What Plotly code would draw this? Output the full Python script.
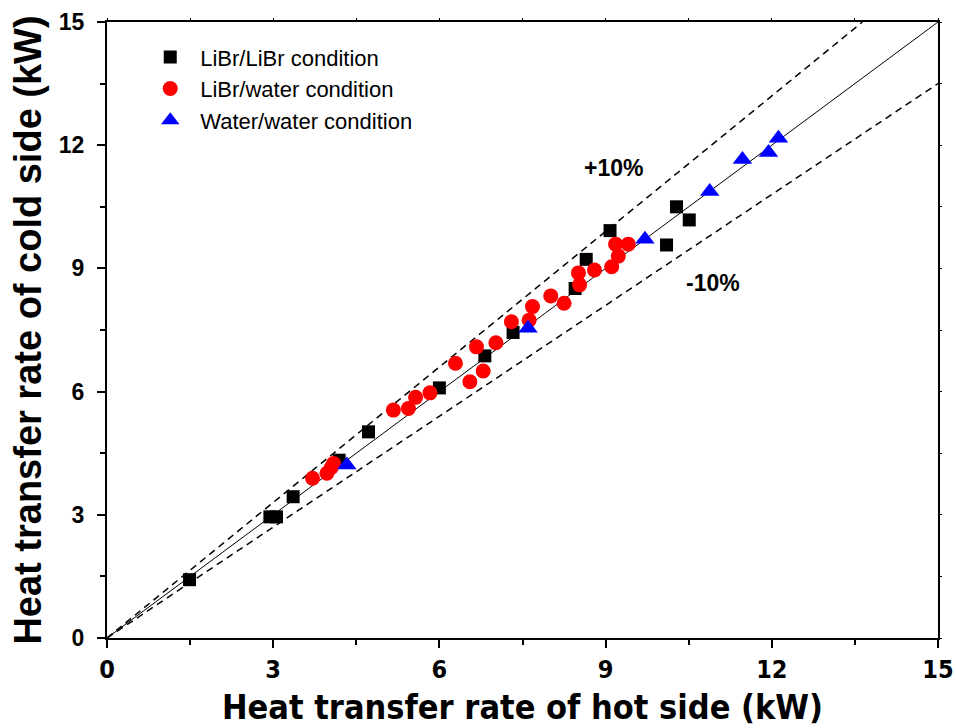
import plotly.graph_objects as go

# Measured heat transfer rates (kW): hot side vs cold side
libr_libr_hot = [1.49, 2.94, 3.06, 3.36, 4.19, 4.72, 6.00, 6.82, 7.33, 8.45, 8.65, 9.08, 10.10, 10.28, 10.51]
libr_libr_cold = [1.42, 2.95, 2.95, 3.44, 4.33, 5.02, 6.09, 6.87, 7.44, 8.51, 9.22, 9.92, 9.57, 10.50, 10.18]

libr_water_hot = [3.71, 3.97, 4.05, 4.09, 5.17, 5.44, 5.57, 5.83, 6.29, 6.55, 6.79, 6.67, 7.02,
                  7.30, 7.62, 7.68, 8.01, 8.25, 8.53, 8.51, 8.80, 9.11, 9.23, 9.18, 9.41]
libr_water_cold = [3.89, 4.01, 4.15, 4.25, 5.55, 5.59, 5.86, 5.97, 6.69, 6.24, 6.50, 7.09, 7.19,
                   7.70, 7.74, 8.07, 8.33, 8.15, 8.60, 8.89, 8.96, 9.04, 9.30, 9.59, 9.59]

water_water_hot = [4.33, 7.60, 9.71, 10.88, 11.47, 11.94, 12.12]
water_water_cold = [4.21, 7.54, 9.71, 10.87, 11.65, 11.82, 12.17]

axis_max = 15
tick_vals = [0, 3, 6, 9, 12, 15]
deviation = 0.10

narrow = "DejaVu Sans Condensed, Liberation Sans Narrow, Arial Narrow, sans-serif"
arial = "Liberation Sans, Arial, sans-serif"

fig = go.Figure()

# Parity line and +/-10% bounds
fig.add_trace(go.Scatter(x=[0, axis_max], y=[0, axis_max], mode="lines",
                         line=dict(color="black", width=1), showlegend=False, hoverinfo="skip"))
fig.add_trace(go.Scatter(x=[0, axis_max / (1 + deviation)], y=[0, axis_max], mode="lines",
                         line=dict(color="black", width=1.5, dash="7px,5px"),
                         showlegend=False, hoverinfo="skip"))
fig.add_trace(go.Scatter(x=[0, axis_max], y=[0, axis_max * (1 - deviation)], mode="lines",
                         line=dict(color="black", width=1.5, dash="7px,5px"),
                         showlegend=False, hoverinfo="skip"))

fig.add_trace(go.Scatter(x=libr_libr_hot, y=libr_libr_cold, mode="markers",
                         name="LiBr/LiBr condition",
                         marker=dict(symbol="square", size=13, color="black")))
fig.add_trace(go.Scatter(x=libr_water_hot, y=libr_water_cold, mode="markers",
                         name="LiBr/water condition",
                         marker=dict(symbol="circle", size=15, color="#ff0000")))
fig.add_trace(go.Scatter(x=water_water_hot, y=water_water_cold, mode="markers",
                         name="Water/water condition",
                         marker=dict(symbol="triangle-up", size=17, color="#0000ff")))

# Short mirrored ticks on top and right edges
fig.add_trace(go.Scatter(x=[None], y=[None], xaxis="x2", yaxis="y2", showlegend=False))

fig.add_annotation(x=9.14, y=11.44, text="<b>+10%</b>", showarrow=False,
                   font=dict(family=arial, size=23, color="black"))
fig.add_annotation(x=10.94, y=8.64, text="<b>-10%</b>", showarrow=False,
                   font=dict(family=arial, size=23, color="black"))

fig.update_layout(
    width=956, height=728,
    margin=dict(l=107, r=18, t=22, b=90),
    paper_bgcolor="white", plot_bgcolor="white",
    xaxis=dict(
        range=[0, axis_max], tickvals=tick_vals, ticks="outside", ticklen=8, tickwidth=2,
        tickcolor="black", showline=True, linecolor="black", linewidth=2, mirror=True,
        showgrid=False, zeroline=False, automargin=False,
        minor=dict(dtick=1.5, tick0=0, ticks="outside", ticklen=5, tickwidth=2, tickcolor="black"),
        tickfont=dict(family=narrow, size=25, color="black", weight="bold"),
        title=dict(text="<b>Heat transfer rate of hot side (kW)</b>", standoff=12,
                   font=dict(family=narrow, size=34, color="black")),
    ),
    yaxis=dict(
        range=[0, axis_max], tickvals=tick_vals, ticks="outside", ticklen=8, tickwidth=2,
        tickcolor="black", showline=True, linecolor="black", linewidth=2, mirror=True,
        showgrid=False, zeroline=False, automargin=False, ticklabelstandoff=8,
        minor=dict(dtick=1.5, tick0=0, ticks="outside", ticklen=5, tickwidth=2, tickcolor="black"),
        tickfont=dict(family=arial, size=23, color="black", weight="bold"),
        title=dict(text="<b>Heat transfer rate of cold side (kW)</b>", standoff=6,
                   font=dict(family=arial, size=38, color="black")),
    ),
    xaxis2=dict(range=[0, axis_max], overlaying="x", side="top", dtick=1.5, tick0=0,
                ticks="outside", ticklen=3, tickwidth=1, tickcolor="black", automargin=False,
                showticklabels=False, showgrid=False, zeroline=False, showline=False),
    yaxis2=dict(range=[0, axis_max], overlaying="y", side="right", dtick=1.5, tick0=0,
                ticks="outside", ticklen=3, tickwidth=1, tickcolor="black", automargin=False,
                showticklabels=False, showgrid=False, zeroline=False, showline=False),
    legend=dict(x=0.040, y=0.977, xanchor="left", yanchor="top", bgcolor="rgba(0,0,0,0)",
                font=dict(family=arial, size=22, color="black"), tracegroupgap=0,
                itemsizing="trace", itemwidth=50),
    showlegend=True,
)

fig.write_html("out.html")
